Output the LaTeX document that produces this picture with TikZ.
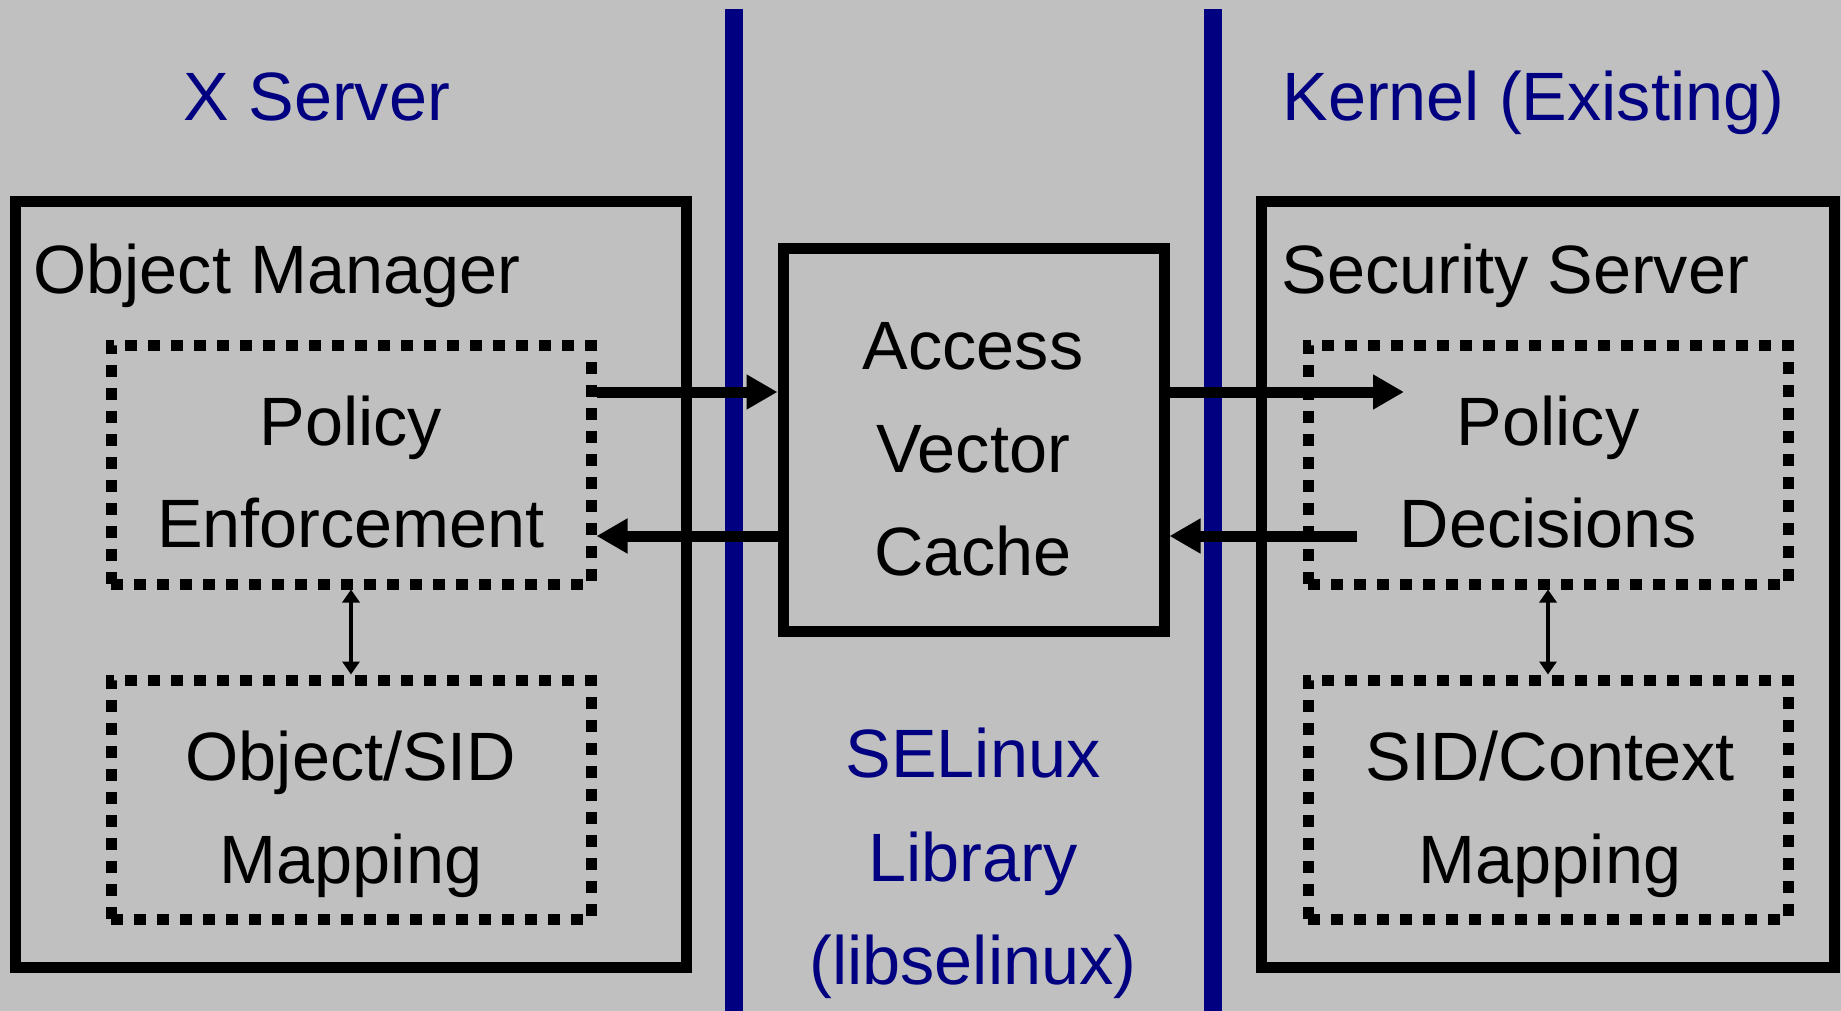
\documentclass[tikz,border=0pt]{standalone}
\usepackage{fontspec}
\setmainfont{Liberation Sans}
\usetikzlibrary{arrows.meta,fit}
\definecolor{bg}{HTML}{C0C0C0}
\definecolor{navy}{HTML}{000080}
\begin{document}
\begin{tikzpicture}[x=0.5pt,y=-0.5pt,
  txt/.style={font=\fontsize{34.2pt}{41pt}\selectfont, inner sep=0pt, anchor=base},
  ttl/.style={txt, text=navy},
  outerbox/.style={draw, line width=5.5pt, inner sep=0pt},
  dotbox/.style={draw, line width=5.5pt, inner sep=0pt, dash pattern=on 6pt off 5.5pt},
  bigarrow/.style={line width=5.5pt, -{Triangle[length=15.5pt,width=16.5pt]}},
  smallarrow/.style={line width=2pt, {Triangle[length=6.5pt,width=8.5pt]}-{Triangle[length=6.5pt,width=8.5pt]}},
  divider/.style={navy, line width=9pt}]
\fill[bg] (0,0) rectangle (1841,1011);
\useasboundingbox (0,0) rectangle (1841,1011);

% dividers
\draw[divider] (734,9) -- (734,1011);
\draw[divider] (1213,9) -- (1213,1011);

% boxes
\node[outerbox, fit={(15.5,201)(686,967)}] (om) {};
\node[outerbox, fit={(1261,201)(1834,967)}] (ss) {};
\node[outerbox, fit={(783,248)(1164,631)}] (avc) {};
\node[dotbox, fit={(111,345)(591,584)}] (pe) {};
\node[dotbox, fit={(111,680)(591,919)}] (osm) {};
\node[dotbox, fit={(1308,345)(1788,584)}] (pd) {};
\node[dotbox, fit={(1308,680)(1788,919)}] (scm) {};

% titles
\node[ttl] (xs) at (317,120) {X Server};
\node[ttl, anchor=base west] (kern) at (1282,120) {Kernel (Existing)};
\node[ttl] (lib1) at (973,777) {SELinux};
\node[ttl] (lib2) at (973,881) {Library};
\node[ttl] (lib3) at (973,984) {(libselinux)};

% labels
\node[txt, anchor=base west] (omlab) at (33,293) {Object Manager};
\node[txt, anchor=base west] (sslab) at (1281,293) {Security Server};
\node[txt] (pe1) at (351,445) {Policy};
\node[txt] (pe2) at (351,547) {Enforcement};
\node[txt] (osm1) at (351,780) {Object/SID};
\node[txt] (osm2) at (351,883) {Mapping};
\node[txt] (avc1) at (973,369) {Access};
\node[txt] (avc2) at (973,472) {Vector};
\node[txt] (avc3) at (973,575) {Cache};
\node[txt] (pd1) at (1548,445) {Policy};
\node[txt] (pd2) at (1548,547) {Decisions};
\node[txt] (scm1) at (1550,780) {SID/Context};
\node[txt] (scm2) at (1550,883) {Mapping};

% connectors
\coordinate (ytop) at (0,392);
\coordinate (ybot) at (0,536);
\coordinate (rtip) at (1404,392);
\coordinate (rstart) at (1357,536);
\draw[bigarrow] (pe.east |- ytop) -- (avc.west |- ytop);
\draw[bigarrow] (avc.west |- ybot) -- (pe.east |- ybot);
\draw[bigarrow] (avc.east |- ytop) -- (rtip);
\draw[bigarrow] (rstart) -- (avc.east |- ybot);
\draw[smallarrow] (pe.south) -- (osm.north);
\draw[smallarrow] (pd.south) -- (scm.north);
\end{tikzpicture}
\end{document}
